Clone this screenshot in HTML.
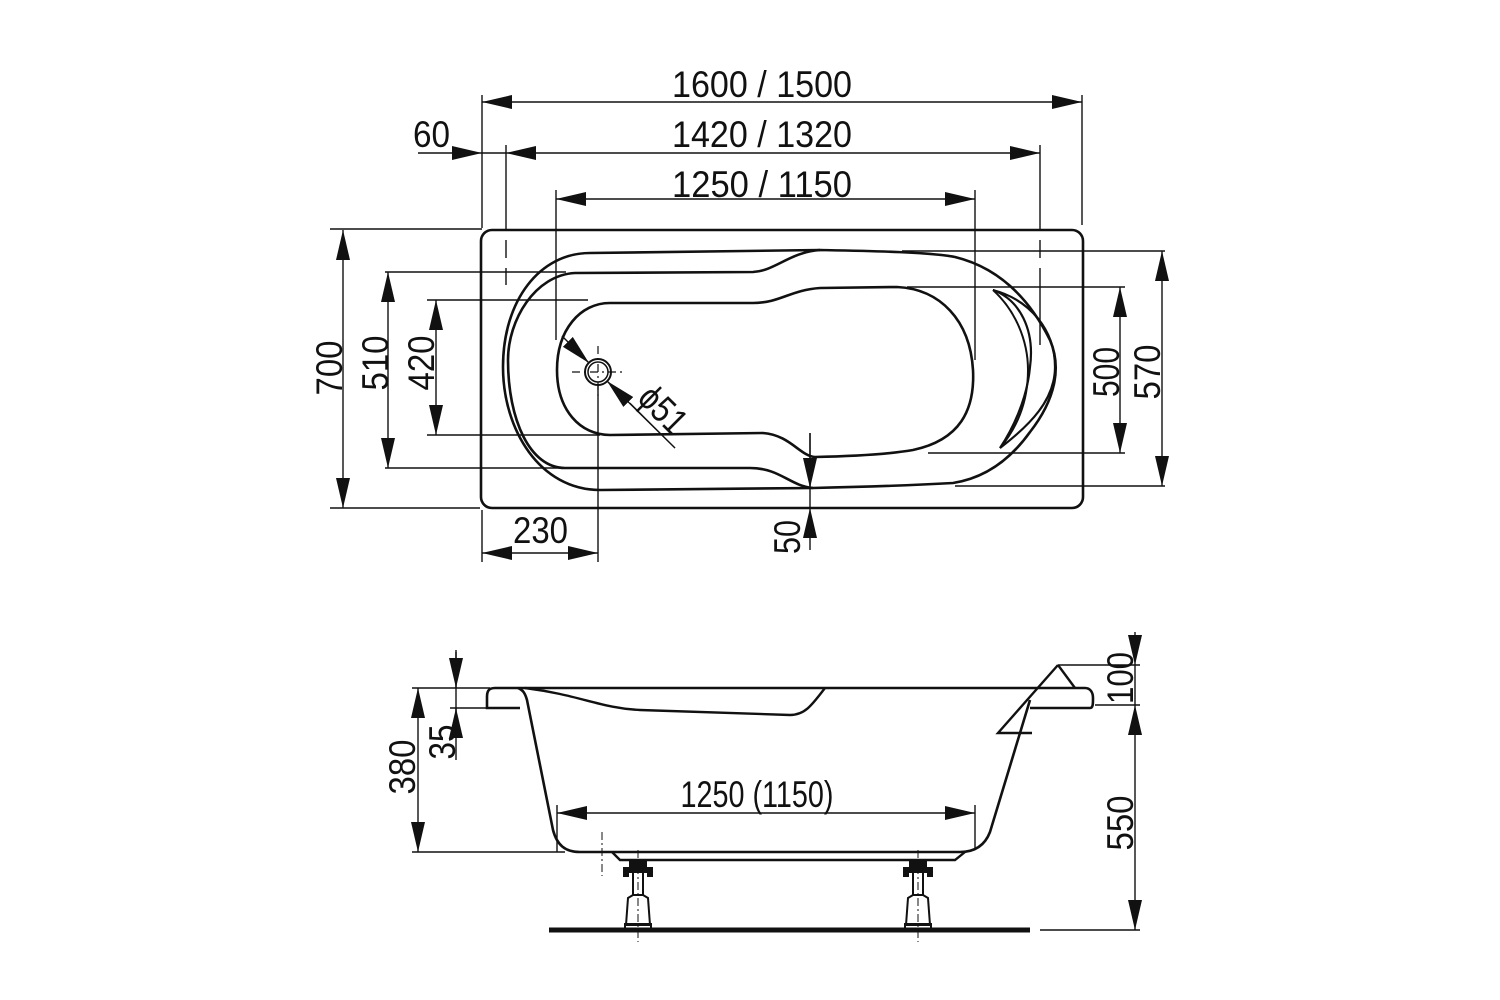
<!DOCTYPE html>
<html><head><meta charset="utf-8"><style>
html,body{margin:0;padding:0;background:#fff;}
svg{display:block}
text{font-family:"Liberation Sans Narrow","Liberation Sans",sans-serif;font-size:37px;fill:#111}
</style></head><body>
<svg width="1500" height="1000" viewBox="0 0 1500 1000" xmlns="http://www.w3.org/2000/svg">
<defs>
<marker id="a" viewBox="0 0 30 14" refX="30" refY="7" markerWidth="30" markerHeight="14" markerUnits="userSpaceOnUse" orient="auto-start-reverse"><path d="M0,0L30,7L0,14z" fill="#111"/></marker>
</defs>
<g stroke="#111" fill="none">
<!-- TOP VIEW -->
<rect x="481" y="230" width="602" height="278" rx="11" stroke-width="2.6"/>
<path d="M820,250 C870,251 930,252 955,257 C1000,268 1030,300 1050,340 C1062,368 1055,400 1030,432 C1010,460 985,478 953,483 C900,486 860,487 813,488 L600,490 C540,490 503,430 503,367 C503,300 540,253 590,253 L820,250" stroke-width="2.6"/>
<path d="M820,250 C790,252 775,271 753,272 L575,273 C535,275 508,320 508,360 C508,420 530,468 565,468 L750,468 C780,468 790,486 813,488" stroke-width="2.6"/>
<path d="M820,288 C790,290 780,303 753,303 L610,303 C580,303 557,330 557,370 C557,410 580,435 610,435 L763,433 C790,435 800,456 815,457 C860,456 890,454 913,450 C960,440 975,410 973,370 C970,320 940,289 897,287 L820,288" stroke-width="2.6"/>
<path d="M993,290 C1020,300 1035,330 1030,367 C1027,400 1012,430 1000,448 C1030,425 1055,400 1055,367 C1055,330 1030,300 993,290z" stroke-width="2.2"/>
<path d="M993,290 C1015,310 1028,340 1028,370 C1028,405 1015,430 1000,448" stroke-width="2"/>
<circle cx="598" cy="372" r="13" stroke-width="2"/>
<circle cx="598" cy="372" r="10" stroke-width="1.5"/>
<path d="M572,372H624M598,346V398" stroke-width="1.2" stroke-dasharray="8,4,2,4"/>
<g stroke-width="1.4">
<path d="M482,95V228M1082,95V225"/>
<path d="M506,145V230M506,240V258M506,268V285" />
<path d="M1040,145V230M1040,240V258M1040,268V345"/>
<path d="M556,190V340M975,190V360"/>
<line x1="482" y1="102" x2="1082" y2="102" marker-start="url(#a)" marker-end="url(#a)"/>
<line x1="506" y1="153" x2="1040" y2="153" marker-start="url(#a)" marker-end="url(#a)"/>
<line x1="418" y1="153" x2="482" y2="153" marker-end="url(#a)"/>
<line x1="482" y1="153" x2="506" y2="153"/>
<line x1="556" y1="199" x2="975" y2="199" marker-start="url(#a)" marker-end="url(#a)"/>
<path d="M330,229H482M330,508H480"/>
<line x1="343" y1="230" x2="343" y2="508" marker-start="url(#a)" marker-end="url(#a)"/>
<path d="M385,272H566M385,468H560"/>
<line x1="388" y1="272" x2="388" y2="468" marker-start="url(#a)" marker-end="url(#a)"/>
<path d="M427,300H588M427,435H600"/>
<line x1="436" y1="300" x2="436" y2="435" marker-start="url(#a)" marker-end="url(#a)"/>
<path d="M902,251H1165M955,486H1165"/>
<line x1="1162" y1="251" x2="1162" y2="486" marker-start="url(#a)" marker-end="url(#a)"/>
<path d="M907,287H1125M928,453H1125"/>
<line x1="1120" y1="287" x2="1120" y2="453" marker-start="url(#a)" marker-end="url(#a)"/>
<path d="M598,385V562M482,510V562"/>
<line x1="482" y1="553" x2="598" y2="553" marker-start="url(#a)" marker-end="url(#a)"/>
<path d="M810,433V508"/>
<line x1="810" y1="433" x2="810" y2="488" marker-end="url(#a)"/>
<line x1="810" y1="550" x2="810" y2="508" marker-end="url(#a)"/>
<line x1="562" y1="336" x2="589" y2="363" marker-end="url(#a)"/>
<line x1="675" y1="448" x2="607" y2="381" marker-end="url(#a)"/>
<line x1="630" y1="403" x2="675" y2="448" stroke-width="1"/>
</g>

<!-- SIDE VIEW -->
<path d="M495,688H1085" stroke-width="2.6"/>
<path d="M495,688 C488,688 487,692 487,697 L487,708 H520" stroke-width="2.6"/>
<path d="M1030,708 H1090 C1093,708 1093,704 1093,698 C1093,692 1090,688 1085,688" stroke-width="2.6"/>
<path d="M518,688 C523,690 525,693 527,700 L553,830 C557,845 565,852 580,852 L960,852 C975,852 985,845 990,832 L1030,700" stroke-width="2.6"/>
<path d="M525,688 C580,695 600,708 640,710 L790,715 C805,715 812,705 825,688" stroke-width="2.4"/>
<path d="M1058,665 L998,733 H1032 M1058,665 L1075,688" stroke-width="2.4"/>
<path d="M612,852 L620,860 H955 L965,852" stroke-width="2.4"/>
<g stroke-width="2">
<path d="M630,860 h16 v8 h6 v8 h-4 v-4 h-20 v4 h-4 v-8 h6z" fill="#111"/>
<path d="M910,860 h16 v8 h6 v8 h-4 v-4 h-20 v4 h-4 v-8 h6z" fill="#111"/>
<path d="M633,872 V895 H643 V872 M628,898 L633,895 H643 L648,898 L650,925 H626z"/>
<path d="M913,872 V895 H923 V872 M908,898 L913,895 H923 L928,898 L930,925 H906z"/>
<path d="M625,924h26v5h-26z M905,924h26v5h-26z"/>
</g>
<path d="M638,850V942M918,850V942M602,832V876" stroke-width="1" stroke-dasharray="8,3,2,3"/>
<path d="M549,930H1030" stroke-width="5"/>
<g stroke-width="1.4">
<path d="M412,688H490M412,852H565"/>
<line x1="418" y1="688" x2="418" y2="852" marker-start="url(#a)" marker-end="url(#a)"/>
<path d="M450,708H490M456,650V760"/>
<line x1="456" y1="652" x2="456" y2="688" marker-end="url(#a)"/>
<line x1="456" y1="735" x2="456" y2="708" marker-end="url(#a)"/>
<path d="M557,805V852M975,805V848"/>
<line x1="557" y1="813" x2="975" y2="813" marker-start="url(#a)" marker-end="url(#a)"/>
<path d="M1058,665H1140M1095,705H1140M1040,930H1140"/>
<line x1="1135" y1="632" x2="1135" y2="665" marker-end="url(#a)"/>
<line x1="1135" y1="665" x2="1135" y2="705"/>
<line x1="1135" y1="705" x2="1135" y2="930" marker-start="url(#a)" marker-end="url(#a)"/>
</g>
</g>

<text x="762" y="97" text-anchor="middle" textLength="180" lengthAdjust="spacingAndGlyphs">1600 / 1500</text>
<text x="762" y="147" text-anchor="middle" textLength="180" lengthAdjust="spacingAndGlyphs">1420 / 1320</text>
<text x="762" y="197" text-anchor="middle" textLength="180" lengthAdjust="spacingAndGlyphs">1250 / 1150</text>
<text x="413" y="147" textLength="37" lengthAdjust="spacingAndGlyphs">60</text>
<text x="513" y="543" textLength="55" lengthAdjust="spacingAndGlyphs">230</text>
<text x="757" y="807" text-anchor="middle" textLength="153" lengthAdjust="spacingAndGlyphs">1250 (1150)</text>
<text transform="translate(342,368) rotate(-90)" text-anchor="middle" textLength="55" lengthAdjust="spacingAndGlyphs">700</text>
<text transform="translate(388,363) rotate(-90)" text-anchor="middle" textLength="55" lengthAdjust="spacingAndGlyphs">510</text>
<text transform="translate(434,363) rotate(-90)" text-anchor="middle" textLength="55" lengthAdjust="spacingAndGlyphs">420</text>
<text transform="translate(1119,372) rotate(-90)" text-anchor="middle" textLength="50" lengthAdjust="spacingAndGlyphs">500</text>
<text transform="translate(1160,372) rotate(-90)" text-anchor="middle" textLength="55" lengthAdjust="spacingAndGlyphs">570</text>
<text transform="translate(800,537) rotate(-90)" text-anchor="middle" textLength="34" lengthAdjust="spacingAndGlyphs">50</text>
<text transform="translate(455,742) rotate(-90)" text-anchor="middle" textLength="35" lengthAdjust="spacingAndGlyphs">35</text>
<text transform="translate(415,767) rotate(-90)" text-anchor="middle" textLength="55" lengthAdjust="spacingAndGlyphs">380</text>
<text transform="translate(1133,678) rotate(-90)" text-anchor="middle" textLength="52" lengthAdjust="spacingAndGlyphs">100</text>
<text transform="translate(1133,823) rotate(-90)" text-anchor="middle" textLength="55" lengthAdjust="spacingAndGlyphs">550</text>
<text transform="translate(636,400) rotate(45)" textLength="52" lengthAdjust="spacingAndGlyphs">ϕ51</text>
</svg>
</body></html>
